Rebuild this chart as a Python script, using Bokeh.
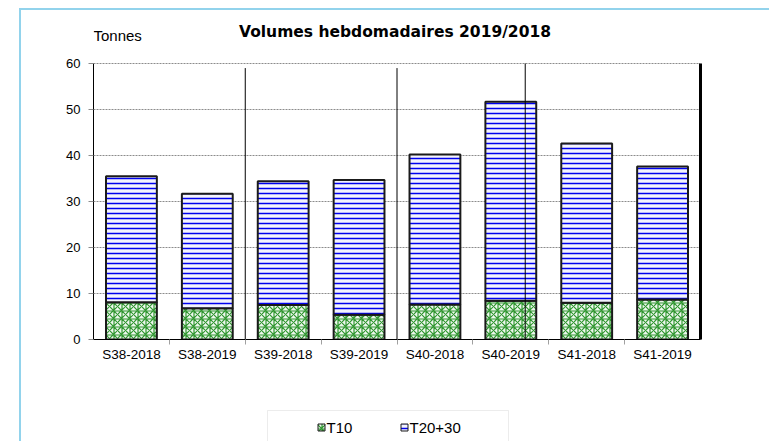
from bokeh.plotting import figure
from bokeh.layouts import column
from bokeh.models import (Range1d, LinearAxis, FixedTicker, Label, ColumnDataSource,
                          BoxAnnotation)
from bokeh.core.properties import value
from bokeh.embed import file_html
from bokeh.resources import INLINE

# ---- data -------------------------------------------------------------
weeks = ["S38-2018", "S38-2019", "S39-2018", "S39-2019",
         "S40-2018", "S40-2019", "S41-2018", "S41-2019"]
t10 = [8.1, 6.8, 7.5, 5.4, 7.6, 8.4, 8.0, 8.7]
t20_30 = [27.4, 24.9, 26.9, 29.3, 32.6, 43.3, 34.6, 28.9]
y_ticks = [0, 10, 20, 30, 40, 50, 60]
series = ["T10", "T20+30"]
title_text = "Volumes hebdomadaires 2019/2018"
unit_text = "Tonnes"
separators = [2.0, 4.0, 5.69]
separator_tops = [59.0, 59.0, 60.0]

FONT = "Liberation Sans"
STYLES = [dict(fill_color="#eef7ee", hatch_pattern="criss_cross", hatch_color="#2f962f",
               hatch_scale=8, hatch_weight=1.2),
          dict(fill_color="#f3f3fd", hatch_pattern="horizontal_line", hatch_color="#0000ee",
               hatch_scale=5, hatch_weight=1.5)]

n = len(weeks)
centers = [i + 0.5 for i in range(n)]
boundaries = list(range(1, n))
y_max = y_ticks[-1]
PX = 4.6  # pixels per tonne

src = ColumnDataSource(dict(x=centers, week=weeks, t10=t10, t20_30=t20_30))

# ---- main chart (frame extends above the 60 line so the titles sit inside it)
p = figure(x_range=Range1d(0, n), y_range=Range1d(0, 71.52),
           width=748, height=390, output_backend="svg", toolbar_location=None,
           x_axis_type=None, min_border_left=72, min_border_right=69,
           min_border_top=0, min_border_bottom=61)
p.title.visible = False
p.outline_line_color = None
p.background_fill_color = "white"
p.border_fill_color = "white"

ya = p.yaxis[0]
ya.ticker = FixedTicker(ticks=y_ticks)
ya.bounds = (0, y_max)
ya.major_tick_out = 5
ya.major_tick_in = 0
ya.major_tick_line_color = "#8c8c8c"
ya.minor_tick_line_color = None
ya.axis_line_color = "black"
ya.major_label_text_font = FONT
ya.major_label_text_font_size = "13px"
ya.major_label_text_color = "black"
ya.major_label_standoff = 8

p.ygrid.ticker = FixedTicker(ticks=y_ticks)
p.ygrid.grid_line_color = "#8c8c8c"
p.ygrid.grid_line_dash = "2 1"
p.xgrid.visible = False

xa = LinearAxis(ticker=FixedTicker(ticks=centers, minor_ticks=boundaries),
                axis_line_color="black", axis_line_width=1,
                major_tick_line_color=None, major_tick_out=0, major_tick_in=0,
                minor_tick_line_color="#a0a0a0", minor_tick_out=5, minor_tick_in=0,
                major_label_text_font=FONT, major_label_text_font_size="13.5px",
                major_label_text_color="black", major_label_standoff=2,
                major_label_overrides={c: w for c, w in zip(centers, weeks)})
p.add_layout(xa, "below")

right_axis = LinearAxis(ticker=FixedTicker(ticks=[]), axis_line_width=3, bounds=(0, y_max),
                        axis_line_color="black", major_tick_line_color=None,
                        minor_tick_line_color=None, major_label_text_color=None)
p.add_layout(right_axis, "right")

renderers = p.vbar_stack(["t10", "t20_30"], x="x", width=0.67, source=src,
                         fill_color=[s["fill_color"] for s in STYLES],
                         line_color="#1a1a1a", line_width=2,
                         hatch_pattern=[s["hatch_pattern"] for s in STYLES],
                         hatch_color=[s["hatch_color"] for s in STYLES],
                         hatch_scale=[s["hatch_scale"] for s in STYLES],
                         hatch_weight=[s["hatch_weight"] for s in STYLES])

p.segment(x0=separators, y0=[-3] * len(separators), x1=separators, y1=separator_tops,
          line_color="black", line_width=1)

p.add_layout(Label(x=n / 2, y=y_max + 31.5 / PX, text=title_text, text_font="DejaVu Sans",
                   text_font_size="15.5px", text_font_style="bold", text_align="center",
                   text_baseline="alphabetic", x_offset=-2, text_color="black"))
p.add_layout(Label(x=0, y=y_max + 27.5 / PX, text=unit_text, text_font=FONT,
                   text_font_size="15px", text_align="left", text_baseline="alphabetic",
                   x_offset=0, text_color="black"))

# ---- legend strip (its frame is aligned with the chart frame: data units = page pixels)
lp = figure(width=748, height=41, x_range=Range1d(93, 700), y_range=Range1d(0, 41),
            output_backend="svg", toolbar_location=None, x_axis_type=None, y_axis_type=None,
            min_border_left=0, min_border_right=0, min_border_top=0, min_border_bottom=0)
lp.title.visible = False
lp.outline_line_color = None
lp.xgrid.visible = False
lp.ygrid.visible = False
lp.add_layout(BoxAnnotation(left=267, right=508, top=31, bottom=-5, fill_alpha=0,
                            line_color="#c0c0c0", line_width=1))
key_x = [321, 404]
for kx, lab, s in zip(key_x, series, STYLES):
    lp.rect(x=[kx], y=[14], width=7, height=7, width_units="screen", height_units="screen",
            line_color="#1a1a1a", line_width=1, **s)
lp.text(x=[kx + 5 for kx in key_x], y=[14, 14], text=series, text_font=value(FONT),
        text_font_size="15px", text_baseline="middle", text_align="left", text_color="black")

page = column(p, lp, spacing=0)
page.margin = (8, 0, 0, 19)
page.styles = {"border-left": "2px solid #92D3EC", "border-top": "2px solid #92D3EC"}

open("out.html", "w").write(file_html(page, INLINE))
